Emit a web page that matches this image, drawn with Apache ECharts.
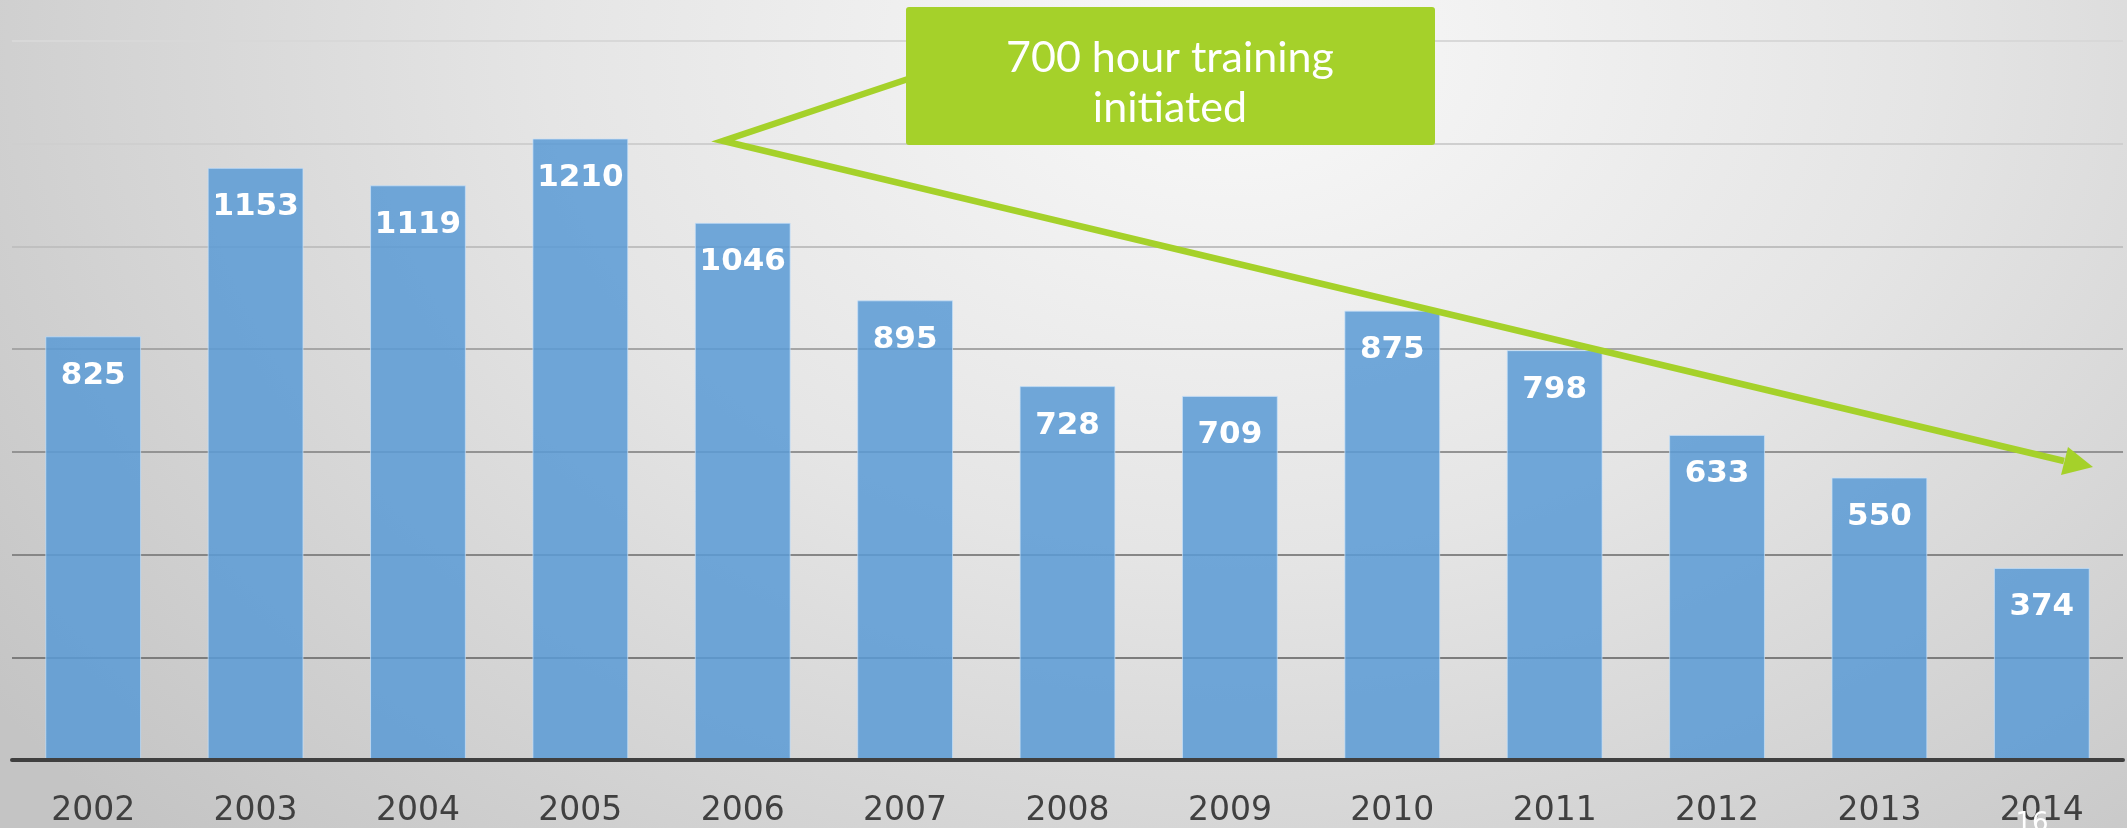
<!DOCTYPE html>
<html>
<head>
<meta charset="utf-8">
<script src="https://cdn.jsdelivr.net/npm/echarts@6/dist/echarts.min.js"></script>
<style>
html, body { margin: 0; padding: 0; }
body {
  width: 2127px; height: 828px; overflow: hidden;
  background: radial-gradient(ellipse 72% 135% at 58% 6%, #f9f9f9 0%, #e5e5e5 45%, #c4c4c4 100%);
}
#chart { width: 2127px; height: 828px; }
</style>
</head>
<body>
<div id="chart"></div>
<script>
// ---- data ----
const years = ['2002','2003','2004','2005','2006','2007','2008','2009','2010','2011','2012','2013','2014'];
const counts = [825, 1153, 1119, 1210, 1046, 895, 728, 709, 875, 798, 633, 550, 374];
const yMin = 0, yMax = 1400, yStep = 200;
const noteLines = ['700 hour training', 'initiated'];
const pageNumber = '16';

const chart = echarts.init(document.getElementById('chart'), null, { renderer: 'canvas' });

const green = '#a5d12a';
const option = {
  backgroundColor: 'transparent',
  animation: false,
  grid: { left: 12, right: 4, top: 41, bottom: 67, containLabel: false },
  xAxis: {
    type: 'category',
    data: years,
    z: 5,
    axisTick: { show: false },
    axisLine: { show: true, lineStyle: { color: '#3f3f3f', width: 4 } },
    axisLabel: { color: '#404040', fontFamily: 'DejaVu Sans', fontSize: 33, margin: 35 },
    splitLine: { show: false }
  },
  yAxis: {
    type: 'value',
    min: yMin, max: yMax, interval: yStep,
    axisLine: { show: false },
    axisTick: { show: false },
    axisLabel: { show: false },
    splitLine: {
      show: true,
      lineStyle: {
        width: 2,
        color: ['#3f3f3f', '#7c7c7c', '#868686', '#939393', '#a6a6a6', '#c0c0c0', '#cfcfcf', '#d8d8d8']
      }
    }
  },
  series: [{
    type: 'bar',
    data: counts,
    barWidth: '59%',
    itemStyle: {
      color: 'rgba(91,155,213,0.86)',
      borderColor: 'rgba(200,225,250,0.7)',
      borderWidth: 1
    },
    label: {
      show: true,
      position: 'insideTop',
      distance: 24,
      color: '#ffffff',
      fontFamily: 'DejaVu Sans',
      fontWeight: 'bold',
      fontSize: 31
    }
  }],
  graphic: [
    {
      type: 'polyline',
      z: 10,
      shape: { points: [[935, 70], [723, 141], [2064, 461]] },
      style: { stroke: green, lineWidth: 6.5, fill: null, lineJoin: 'miter', miterLimit: 20 }
    },
    {
      type: 'polygon',
      z: 10,
      shape: { points: [[2093, 467], [2061, 475], [2068, 447]] },
      style: { fill: green }
    },
    {
      type: 'rect',
      z: 11,
      shape: { x: 906, y: 7, width: 529, height: 138, r: 3 },
      style: { fill: green }
    },
    {
      type: 'text',
      z: 12,
      x: 1170, y: 83,
      style: {
        text: noteLines.join('\n'),
        fill: '#ffffff',
        font: '400 43px Lato',
        align: 'center',
        verticalAlign: 'middle',
        lineHeight: 50
      }
    },
    {
      type: 'text',
      z: 12,
      x: 2032, y: 811,
      style: {
        text: pageNumber,
        fill: '#ffffff',
        font: '26px "DejaVu Sans"',
        align: 'center',
        verticalAlign: 'top'
      }
    }
  ]
};
chart.setOption(option);
</script>
</body>
</html>
